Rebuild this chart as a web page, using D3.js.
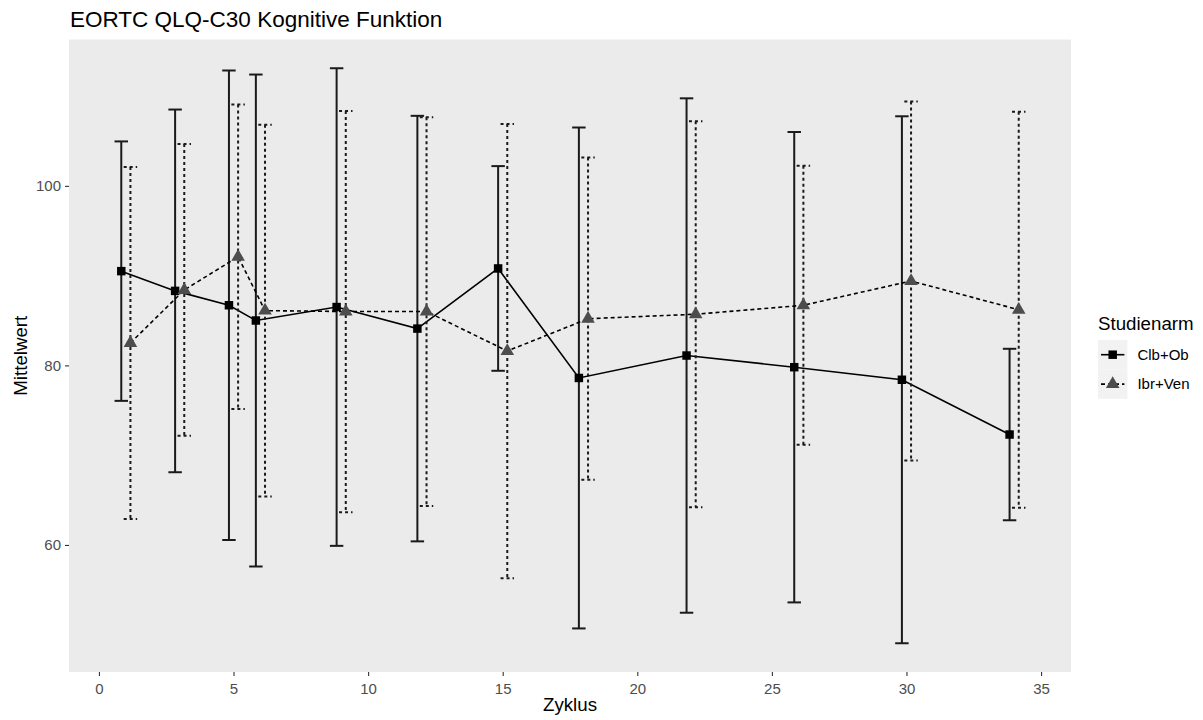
<!DOCTYPE html>
<html>
<head>
<meta charset="utf-8">
<script src="https://cdn.jsdelivr.net/npm/d3@7"></script>
<style>
  html, body { margin: 0; padding: 0; background: #ffffff; }
  svg { display: block; font-family: "Liberation Sans", Arial, sans-serif; }
</style>
</head>
<body>
<svg id="chart" width="1203" height="720"></svg>
<script>
// Mean cognitive function score (± SD) per treatment cycle
const cycles   = [1, 3, 5, 6, 9, 12, 15, 18, 22, 26, 30, 34];
const clbMean  = [90.5, 88.3, 86.7, 85.0, 86.5, 84.1, 90.8, 78.6, 81.1, 79.8, 78.4, 72.3];
const clbSd    = [14.45, 20.2, 26.15, 27.4, 26.6, 23.7, 11.4, 27.9, 28.65, 26.2, 29.35, 9.55];
const ibrMean  = [82.5, 88.4, 92.1, 86.1, 86.0, 86.0, 81.6, 85.2, 85.7, 86.7, 89.4, 86.2];
const ibrSd    = [19.6, 16.25, 16.95, 20.7, 22.35, 21.65, 25.3, 17.95, 21.5, 15.55, 20.0, 22.05];
const armNames = ["Clb+Ob", "Ibr+Ven"];
const xTicks   = [0, 5, 10, 15, 20, 25, 30, 35];
const yTicks   = [60, 80, 100];

const title  = "EORTC QLQ-C30 Kognitive Funktion";
const xTitle = "Zyklus";
const yTitle = "Mittelwert";
const legendTitle = "Studienarm";

// layout
const panel = { left: 69, right: 1071, top: 39.5, bottom: 672 };
const dodge = 0.17;      // horizontal shift of each arm (x units)
const capHalf = 0.25;    // half width of error bar caps (x units)

const arms = [
  { name: armNames[0], mean: clbMean, sd: clbSd, shift: -dodge,
    lineDash: null, barDash: null, lineColor: "#000000", barColor: "#1a1a1a",
    shape: "square", pointColor: "#000000" },
  { name: armNames[1], mean: ibrMean, sd: ibrSd, shift: dodge,
    lineDash: "4,3", barDash: "3,3", lineColor: "#000000", barColor: "#1a1a1a",
    shape: "triangle", pointColor: "#4d4d4d" }
];

const rows = arms.map(a => cycles.map((c, i) => ({
  x: c + a.shift, mean: a.mean[i], lo: a.mean[i] - a.sd[i], hi: a.mean[i] + a.sd[i]
})));

// continuous scales with 5% padding, like the default ggplot expansion
const allRows = rows.flat();
const xMin = d3.min(allRows, d => d.x - capHalf), xMax = d3.max(allRows, d => d.x + capHalf);
const yMin = d3.min(allRows, d => d.lo), yMax = d3.max(allRows, d => d.hi);
const xPad = (xMax - xMin) * 0.05, yPad = (yMax - yMin) * 0.05;

const x = d3.scaleLinear().domain([xMin - xPad, xMax + xPad]).range([panel.left, panel.right]);
const y = d3.scaleLinear().domain([yMin - yPad, yMax + yPad]).range([panel.bottom, panel.top]);

const svg = d3.select("#chart");

svg.append("rect")
  .attr("x", panel.left).attr("y", panel.top)
  .attr("width", panel.right - panel.left).attr("height", panel.bottom - panel.top)
  .attr("fill", "#ebebeb");

// axes
const xAxis = svg.append("g")
  .attr("transform", `translate(0,${panel.bottom})`)
  .call(d3.axisBottom(x).tickValues(xTicks).tickSize(4).tickPadding(4).tickFormat(d3.format("d")));
const yAxis = svg.append("g")
  .attr("transform", `translate(${panel.left},0)`)
  .call(d3.axisLeft(y).tickValues(yTicks).tickSize(4).tickPadding(4).tickFormat(d3.format("d")));
[xAxis, yAxis].forEach(g => {
  g.select(".domain").remove();
  g.selectAll(".tick line").attr("stroke", "#333333").attr("stroke-width", 1.1);
  g.selectAll(".tick text").attr("fill", "#4d4d4d")
    .style("font-family", "'Liberation Sans', Arial, sans-serif").style("font-size", "15px");
});
xAxis.selectAll(".tick text").attr("dy", "0.95em");

const symbolFor = s => s === "square" ? d3.symbolSquare : d3.symbolTriangle;
const sizeFor = s => s === "square" ? 72 : 80;

const plot = svg.append("g");

arms.forEach((a, k) => {
  const data = rows[k];
  const g = plot.append("g");

  // error bars
  const bars = g.selectAll("g.bar").data(data).join("g").attr("class", "bar")
    .attr("stroke", a.barColor).attr("stroke-width", 2).attr("fill", "none")
    .attr("stroke-dasharray", a.barDash);
  bars.append("line")
    .attr("x1", d => x(d.x)).attr("x2", d => x(d.x))
    .attr("y1", d => y(d.hi)).attr("y2", d => y(d.lo));
  bars.append("line")
    .attr("x1", d => x(d.x - capHalf)).attr("x2", d => x(d.x + capHalf))
    .attr("y1", d => y(d.hi)).attr("y2", d => y(d.hi));
  bars.append("line")
    .attr("x1", d => x(d.x - capHalf)).attr("x2", d => x(d.x + capHalf))
    .attr("y1", d => y(d.lo)).attr("y2", d => y(d.lo));

  // connecting line
  g.append("path").datum(data)
    .attr("fill", "none").attr("stroke", a.lineColor).attr("stroke-width", 1.6)
    .attr("stroke-dasharray", a.lineDash)
    .attr("d", d3.line().x(d => x(d.x)).y(d => y(d.mean)));

  // points
  g.selectAll("path.pt").data(data).join("path").attr("class", "pt")
    .attr("transform", d => `translate(${x(d.x)},${y(d.mean)})`)
    .attr("d", d3.symbol().type(symbolFor(a.shape)).size(sizeFor(a.shape)))
    .attr("fill", a.pointColor);
});

// titles
svg.append("text").attr("x", 70).attr("y", 27)
  .attr("font-size", "22.5px").attr("fill", "#000").text(title);
svg.append("text").attr("x", (panel.left + panel.right) / 2).attr("y", 711)
  .attr("text-anchor", "middle").attr("font-size", "18.7px").attr("fill", "#000").text(xTitle);
svg.append("text")
  .attr("transform", `translate(27,${(panel.top + panel.bottom) / 2}) rotate(-90)`)
  .attr("text-anchor", "middle").attr("font-size", "18.7px").attr("fill", "#000").text(yTitle);

// legend
const legend = svg.append("g").attr("transform", "translate(1098,0)");
legend.append("text").attr("x", 0).attr("y", 330)
  .attr("font-size", "18.7px").attr("fill", "#000").text(legendTitle);
const keySize = 29.4, keyTop = 340;
arms.forEach((a, k) => {
  const ky = keyTop + k * keySize;
  const kg = legend.append("g").attr("transform", `translate(0,${ky})`);
  kg.append("rect").attr("width", keySize).attr("height", keySize).attr("fill", "#f2f2f2");
  kg.append("line").attr("x1", 3).attr("x2", keySize - 3)
    .attr("y1", keySize / 2).attr("y2", keySize / 2)
    .attr("stroke", a.lineColor).attr("stroke-width", 1.6).attr("stroke-dasharray", a.lineDash);
  kg.append("path").attr("transform", `translate(${keySize / 2},${keySize / 2})`)
    .attr("d", d3.symbol().type(symbolFor(a.shape)).size(sizeFor(a.shape)))
    .attr("fill", a.pointColor);
  kg.append("text").attr("x", keySize + 10).attr("y", keySize / 2).attr("dy", "0.35em")
    .attr("font-size", "15px").attr("fill", "#000").text(a.name);
});
</script>
</body>
</html>
